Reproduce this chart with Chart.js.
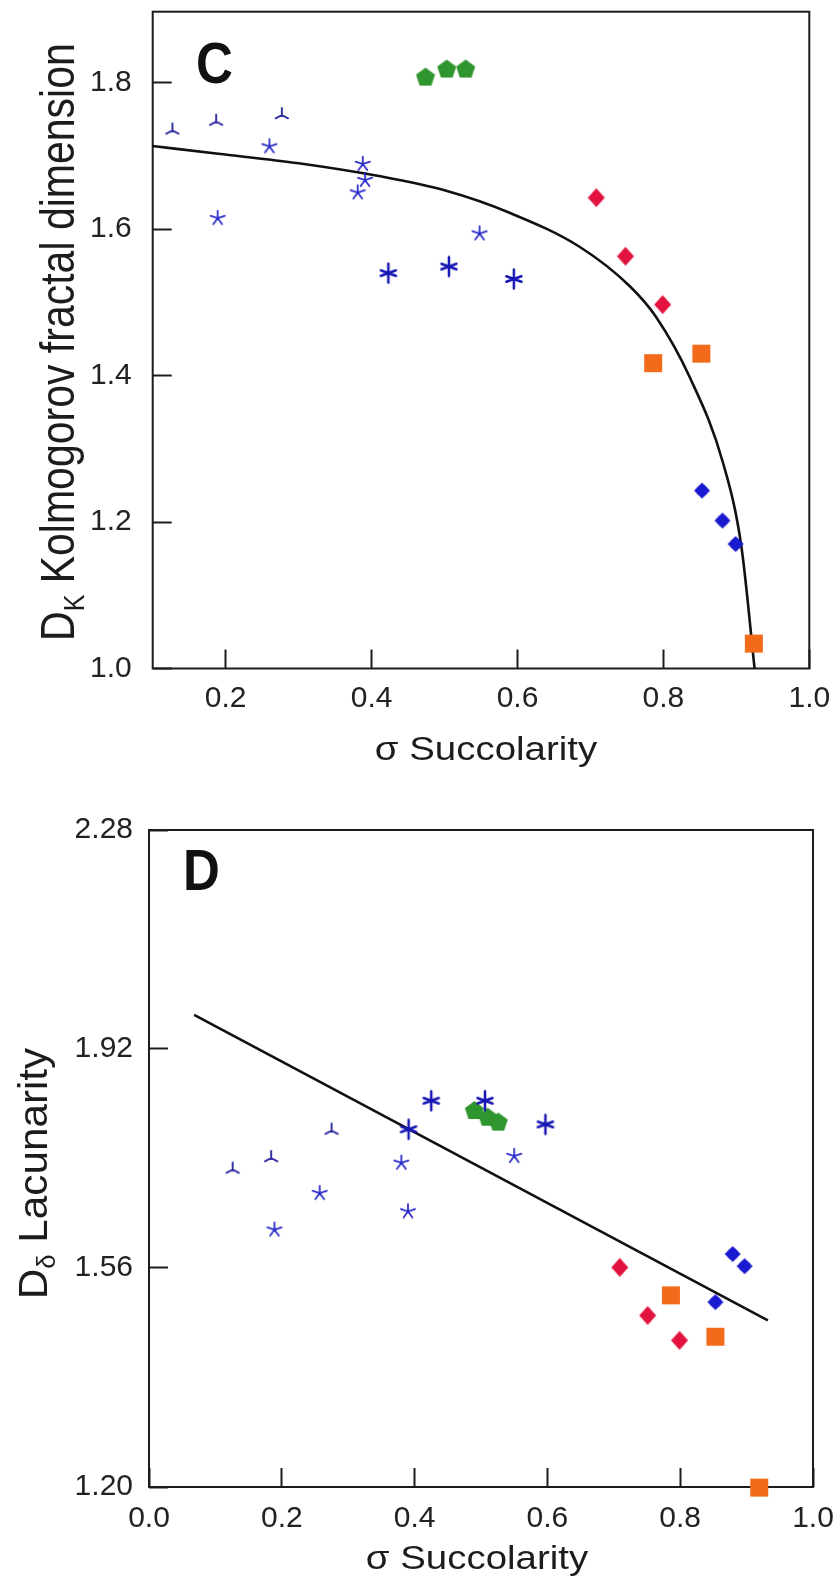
<!DOCTYPE html>
<html>
<head>
<meta charset="utf-8">
<script src="https://cdn.jsdelivr.net/npm/chart.js@4.4.1/dist/chart.umd.min.js"></script>
<style>
  html, body { margin: 0; padding: 0; background: #fff; }
  #wrap { position: relative; width: 840px; height: 1580px; overflow: hidden; }
  canvas { position: absolute; left: 0; }
  #cvC { top: 0; }
  #cvD { top: 790px; }
</style>
</head>
<body>
<div id="wrap">
  <canvas id="cvC" width="840" height="790"></canvas>
  <canvas id="cvD" width="840" height="790"></canvas>
</div>
<script>
// ---------- Panel C: Kolmogorov fractal dimension vs succolarity ----------
const succTriC  = [0.127, 0.187, 0.277];
const dkTri     = [1.735, 1.747, 1.756];
const succStarC = [0.189, 0.260, 0.381, 0.388, 0.391, 0.548];
const dkStar    = [1.615, 1.713, 1.650, 1.689, 1.667, 1.594];
const succAstC  = [0.423, 0.506, 0.595];
const dkAst     = [1.540, 1.549, 1.532];
const succPentC = [0.474, 0.503, 0.529];
const dkPent    = [1.807, 1.818, 1.818];
const succDiamC = [0.708, 0.748, 0.799];
const dkDiam    = [1.643, 1.563, 1.497];
const succSqC   = [0.786, 0.852, 0.924];
const dkSq      = [1.417, 1.430, 1.034];
const succBlobC = [0.853, 0.881, 0.899];
const dkBlob    = [1.243, 1.202, 1.170];
// fitted trend curve
const fitSuccC  = [0.10, 0.19, 0.30, 0.41, 0.50, 0.59, 0.685, 0.754, 0.79, 0.836, 0.882, 0.907, 0.925];
const fitDk     = [1.7135, 1.703, 1.690, 1.6725, 1.653, 1.622, 1.576, 1.522, 1.480, 1.398, 1.280, 1.166, 1.000];
const xTicksC   = [0.2, 0.4, 0.6, 0.8, 1.0];
const yTicksC   = [1.0, 1.2, 1.4, 1.6, 1.8];

// ---------- Panel D: lacunarity vs succolarity ----------
const succTriD  = [0.126, 0.184, 0.275];
const dlTri     = [1.722, 1.741, 1.786];
const succStarD = [0.189, 0.257, 0.380, 0.390, 0.550];
const dlStar    = [1.623, 1.683, 1.733, 1.653, 1.744];
const succAstD  = [0.391, 0.425, 0.506, 0.597];
const dlAst     = [1.788, 1.835, 1.835, 1.796];
const succPentD = [0.490, 0.510, 0.526];
const dlPent    = [1.818, 1.807, 1.799];
const succDiamD = [0.709, 0.751, 0.799];
const dlDiam    = [1.561, 1.482, 1.441];
const succSqD   = [0.786, 0.853, 0.919];
const dlSq      = [1.515, 1.447, 1.199];
const succBlobD = [0.853, 0.879, 0.897];
const dlBlob    = [1.504, 1.583, 1.563];
// linear regression line
const fitSuccD  = [0.068, 0.932];
const fitDl     = [1.976, 1.474];
const xTicksD   = [0.0, 0.2, 0.4, 0.6, 0.8, 1.0];
const yTicksD   = [1.20, 1.56, 1.92, 2.28];

const FONT = '"Liberation Sans", Arial, Helvetica, sans-serif';
const INK = '#1c1c1c';

// ---------- marker glyphs ----------
function glyph(size, draw) {
  const c = document.createElement('canvas');
  c.width = c.height = size;
  const g = c.getContext('2d');
  g.translate(size / 2, size / 2);
  g.lineCap = 'round';
  draw(g);
  return c;
}
function spokes(g, angles, len) {
  g.beginPath();
  angles.forEach((a, i) => {
    const L = Array.isArray(len) ? len[i] : len;
    const r = a * Math.PI / 180;
    g.moveTo(0, 0);
    g.lineTo(Math.cos(r) * L, Math.sin(r) * L);
  });
  g.stroke();
}
const mkTri = glyph(18, g => {
  g.strokeStyle = '#2b2b9e'; g.lineWidth = 1.9;
  spokes(g, [-90, 28, 152], 7);
});
const mkStar = glyph(20, g => {
  g.strokeStyle = '#2424c8'; g.lineWidth = 1.7;
  spokes(g, [-90, -18, 54, 126, 198], 7.5);
});
const mkAst = glyph(24, g => {
  g.strokeStyle = '#1616b4'; g.lineWidth = 2.5;
  spokes(g, [-90, 90, -20, 20, 160, 200], [9.5, 9.5, 8, 8, 8, 8]);
});
const mkPent = glyph(24, g => {
  g.fillStyle = '#2f962f';
  g.beginPath();
  for (let k = 0; k < 5; k++) {
    const a = (-90 + k * 72) * Math.PI / 180;
    g.lineTo(Math.cos(a) * 10, Math.sin(a) * 10);
  }
  g.closePath(); g.fill();
});
const mkDiam = glyph(24, g => {
  g.fillStyle = '#e2143f';
  g.beginPath();
  g.moveTo(0, -9.5); g.lineTo(8.5, 0); g.lineTo(0, 9.5); g.lineTo(-8.5, 0);
  g.closePath(); g.fill();
});
const mkSq = glyph(22, g => {
  g.fillStyle = '#f26b1b';
  g.fillRect(-9, -9, 18, 18);
});
const mkBlob = glyph(20, g => {
  g.fillStyle = '#1a1ad0';
  g.beginPath();
  g.moveTo(0, -8); g.lineTo(8, 0); g.lineTo(0, 8); g.lineTo(-8, 0);
  g.closePath(); g.fill();
  g.beginPath(); g.arc(0, 0, 5.8, 0, Math.PI * 2); g.fill();
});

function pts(xs, ys) { return xs.map((x, i) => ({ x, y: ys[i] })); }
function markerSet(label, xs, ys, style) {
  return {
    type: 'scatter', label, data: pts(xs, ys),
    pointStyle: style, pointRadius: 8, pointHoverRadius: 8,
    showLine: false, clip: false
  };
}
function fitSet(xs, ys, smooth) {
  return {
    type: 'line', label: 'fit', data: pts(xs, ys),
    borderColor: '#111', borderWidth: 2.6, pointRadius: 0, fill: false,
    cubicInterpolationMode: smooth ? 'monotone' : 'default', tension: 0,
    clip: false, order: 10
  };
}

// ---------- frame, panel letter and axis titles ----------
// parts: [{t, sub}], drawn around (cx, cy) with the baseline on cy (before rotation)
function titleText(ctx, parts, size, cx, cy, rotate, sx, sy) {
  ctx.save();
  ctx.translate(cx, cy);
  if (rotate) ctx.rotate(-Math.PI / 2);
  ctx.scale(sx || 1, sy || 1);
  ctx.fillStyle = INK;
  ctx.textBaseline = 'alphabetic';
  ctx.textAlign = 'left';
  let total = 0;
  const widths = parts.map(p => {
    ctx.font = Math.round(size * (p.sub ? 0.62 : 1)) + 'px ' + FONT;
    const w = ctx.measureText(p.t).width;
    total += w; return w;
  });
  let x = -total / 2;
  parts.forEach((p, i) => {
    ctx.font = Math.round(size * (p.sub ? 0.62 : 1)) + 'px ' + FONT;
    ctx.fillText(p.t, x, p.sub ? size * 0.2 : 0);
    x += widths[i];
  });
  ctx.restore();
}

function decorPlugin(cfg) {
  return {
    id: 'decor',
    beforeDatasetsDraw(chart) {
      const { ctx, chartArea: a } = chart;
      ctx.save();
      ctx.strokeStyle = INK; ctx.lineWidth = 2;
      ctx.strokeRect(a.left, a.top, a.right - a.left, a.bottom - a.top);
      ctx.restore();
    },
    afterDraw(chart) {
      const { ctx, chartArea: a } = chart;
      // panel letter
      ctx.save();
      ctx.translate(cfg.letterX, cfg.letterY);
      ctx.scale(0.88, 1);
      ctx.font = 'bold 58px ' + FONT;
      ctx.fillStyle = '#111';
      ctx.textBaseline = 'alphabetic';
      ctx.fillText(cfg.letter, 0, 0);
      ctx.restore();
      // x title
      titleText(ctx, [{ t: 'σ Succolarity' }], 34, (a.left + a.right) / 2 + cfg.xShift, cfg.xTitleBase, false, 1.13, 1);
      // y title, rotated, baseline at x = cfg.yTitleBase
      titleText(ctx, cfg.yParts, cfg.ySize, cfg.yTitleBase, (a.top + a.bottom) / 2 + cfg.yShift, true, cfg.ySx, cfg.ySy);
    }
  };
}

function axis(min, max, ticks, digits, fitSize, isX, pad) {
  return {
    type: 'linear', min, max,
    afterBuildTicks: s => { s.ticks = ticks.map(v => ({ value: v })); },
    afterFit: s => {
      if (isX) s.height = fitSize; else s.width = fitSize;
      s.paddingTop = s.paddingBottom = s.paddingLeft = s.paddingRight = 0;
    },
    grid: { display: true, drawOnChartArea: false, drawTicks: true, tickLength: -19, tickWidth: 2, tickColor: INK },
    border: { display: false },
    ticks: {
      padding: pad, color: '#222', font: { family: FONT, size: 30 },
      maxRotation: 0, autoSkip: false,
      callback: v => Number(v).toFixed(digits)
    }
  };
}

function makeChart(id, datasets, scales, padding, decor) {
  return new Chart(document.getElementById(id), {
    data: { datasets },
    options: {
      responsive: false, animation: false, devicePixelRatio: 1, events: [],
      layout: { padding, autoPadding: false },
      plugins: { legend: { display: false }, tooltip: { enabled: false } },
      scales
    },
    plugins: [decorPlugin(decor)]
  });
}

// Panel C
makeChart('cvC', [
  fitSet(fitSuccC, fitDk, true),
  markerSet('tri', succTriC, dkTri, mkTri),
  markerSet('star', succStarC, dkStar, mkStar),
  markerSet('asterisk', succAstC, dkAst, mkAst),
  markerSet('pentagon', succPentC, dkPent, mkPent),
  markerSet('diamond', succDiamC, dkDiam, mkDiam),
  markerSet('square', succSqC, dkSq, mkSq),
  markerSet('blob', succBlobC, dkBlob, mkBlob)
], {
  x: axis(0.1, 1.0, xTicksC, 1, 121.5, true, 31.5),
  y: axis(1.0, 1.897, yTicksC, 1, 152.7, false, 40)
}, { top: 11.7, right: 30.7, left: 0, bottom: 0 }, {
  letter: 'C', letterX: 196, letterY: 83,
  xTitleBase: 760, xShift: 5,
  yParts: [{ t: 'D' }, { t: 'K', sub: true }, { t: ' Kolmogorov fractal dimension' }],
  ySize: 41, yTitleBase: 74, yShift: 2, ySx: 1, ySy: 1.18
});

// Panel D
makeChart('cvD', [
  fitSet(fitSuccD, fitDl, false),
  markerSet('tri', succTriD, dlTri, mkTri),
  markerSet('star', succStarD, dlStar, mkStar),
  markerSet('asterisk', succAstD, dlAst, mkAst),
  markerSet('pentagon', succPentD, dlPent, mkPent),
  markerSet('diamond', succDiamD, dlDiam, mkDiam),
  markerSet('square', succSqD, dlSq, mkSq),
  markerSet('blob', succBlobD, dlBlob, mkBlob)
], {
  x: axis(0.0, 1.0, xTicksD, 1, 93, true, 33),
  y: axis(1.20, 2.28, yTicksD, 2, 149, false, 35)
}, { top: 40, right: 27, left: 0, bottom: 0 }, {
  letter: 'D', letterX: 183, letterY: 100,
  xTitleBase: 779, xShift: -4,
  yParts: [{ t: 'D' }, { t: 'δ', sub: true }, { t: ' Lacunarity' }],
  ySize: 41, yTitleBase: 47, yShift: 15, ySx: 1.03, ySy: 1
});
</script>
</body>
</html>
